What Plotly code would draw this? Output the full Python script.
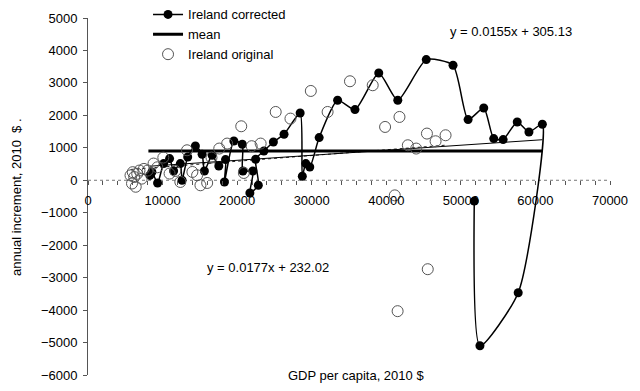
import plotly.graph_objects as go

# ---- data ----
# Ireland corrected (time ordered): GDP per capita (2010 $) and annual increment
corr_x = [8300, 8570, 9330, 10140, 10940, 11480, 12380, 12610, 13370, 14400, 15300, 15610,
          16650, 17540, 18440, 18300, 19560, 20690, 20770, 22110, 21710, 22840, 22480,
          23590, 24860, 26290, 28450, 28740, 29210, 29740, 31000, 33470, 35800, 38990,
          41540, 45360, 48950, 50970, 53070, 54410, 55670, 57560, 59130, 60930, 57690,
          52560, 51800]
corr_y = [150, 256, -83, 515, 669, 287, 515, 0, 718, 1057, 801, 287,
          770, 441, 638, -52, 1211, 1109, 287, 287, -391, -154, 647,
          903, 1180, 1418, 2074, 123, 515, 410, 1315, 2465, 2178, 3307,
          2465, 3718, 3544, 1870, 2228, 1285, 1254, 1797, 1488, 1726, -3464,
          -5098, -641]

# Ireland original (time ordered)
orig_x = [5700, 5900, 6000, 6200, 6400, 6600, 6900, 7200, 7500, 8000, 8790, 9300, 10100,
          10940, 11710, 12380, 13280, 14000, 14630, 15080, 15980, 16560, 17600, 18660,
          20550, 20900, 21950, 23150, 25170, 27150, 29880, 32130, 35130, 38180, 39840,
          41770, 42890, 44010, 45450, 46610, 47950, 45560, 41520, 41140]
orig_y = [150, -100, 250, 100, -200, 200, 300, 50, 350, 300, 515, 400, 700,
          206, 287, -52, 924, 256, 154, -154, -83, 700, 977, 1131,
          1664, 225, 1050, 1131, 2105, 1900, 2752, 2105, 3051, 2928, 1643,
          1951, 1079, 977, 1439, 1202, 1387, -2740, -4033, -465]

mean_value = 900

# linear trendlines (slope, intercept) as printed on the chart
trend_corr = (0.0155, 305.13)
trend_orig = (0.0177, 232.02)

x_ticks = list(range(0, 70001, 2000))
x_labels = [str(v) if v % 10000 == 0 else "" for v in x_ticks]
y_ticks = list(range(-6000, 5001, 1000))

FONT = "Liberation Sans, Arial, sans-serif"

fig = go.Figure()

# original trendline
ox0, ox1 = min(orig_x), max(orig_x)
fig.add_trace(go.Scatter(
    x=[ox0, ox1],
    y=[trend_orig[0] * ox0 + trend_orig[1], trend_orig[0] * ox1 + trend_orig[1]],
    mode="lines", line=dict(color="#222222", width=1, dash="dot"),
    showlegend=False, hoverinfo="skip"))

# corrected trendline
cx0, cx1 = min(corr_x), max(corr_x)
fig.add_trace(go.Scatter(
    x=[cx0, cx1],
    y=[trend_corr[0] * cx0 + trend_corr[1], trend_corr[0] * cx1 + trend_corr[1]],
    mode="lines", line=dict(color="#000000", width=1),
    showlegend=False, hoverinfo="skip"))

fig.add_trace(go.Scatter(
    x=corr_x, y=corr_y, name="Ireland corrected",
    mode="lines+markers",
    line=dict(color="#000000", width=1.5, shape="spline", smoothing=0.6),
    marker=dict(symbol="circle", size=9, color="#000000")))

fig.add_trace(go.Scatter(
    x=[cx0 - 200, cx1], y=[mean_value, mean_value], name="mean",
    mode="lines", line=dict(color="#000000", width=3)))

fig.add_trace(go.Scatter(
    x=orig_x, y=orig_y, name="Ireland original",
    mode="markers",
    marker=dict(symbol="circle-open", size=11, color="#555555", line=dict(width=1))))

# dotted x-axis line at y = 0
fig.add_shape(type="line", xref="x", yref="y", x0=0, x1=70000, y0=0, y1=0,
              line=dict(color="#777777", width=1, dash="dot"), layer="below")

fig.add_annotation(x=56700, y=4590, xref="x", yref="y", text="y = 0.0155x + 305.13",
                   showarrow=False, font=dict(size=13, color="#000000", family=FONT))
fig.add_annotation(x=24140, y=-2680, xref="x", yref="y", text="y = 0.0177x + 232.02",
                   showarrow=False, font=dict(size=13, color="#000000", family=FONT))

# axis titles
fig.add_annotation(x=0.513, y=0.0, xref="paper", yref="paper",
                   text="GDP per capita, 2010 $", showarrow=False,
                   xanchor="center", yanchor="middle",
                   font=dict(size=13, color="#000000", family=FONT))
fig.add_annotation(x=-0.137, y=0.5, xref="paper", yref="paper",
                   text="annual increment, 2010  $ .", showarrow=False, textangle=-90,
                   xanchor="center", yanchor="middle",
                   font=dict(size=13, color="#000000", family=FONT))

fig.update_layout(
    width=640, height=391,
    margin=dict(l=88, r=30, t=18, b=16, autoexpand=False),
    paper_bgcolor="white", plot_bgcolor="white",
    font=dict(family=FONT, size=13, color="#000000"),
    showlegend=True,
    legend=dict(x=0.115, y=1.052, xanchor="left", yanchor="top",
                bgcolor="rgba(0,0,0,0)", font=dict(size=13, family=FONT),
                tracegroupgap=0, itemwidth=30),
    xaxis=dict(range=[0, 70000], anchor="free", position=6000 / 11000,
               tickmode="array", tickvals=x_ticks, ticktext=x_labels,
               ticks="outside", ticklen=4, tickcolor="#555555",
               ticklabelstandoff=4, automargin=False,
               showline=False, showgrid=False, zeroline=False,
               tickfont=dict(size=13, family=FONT, color="#000000")),
    yaxis=dict(range=[-6000, 5000], tickmode="array", tickvals=y_ticks,
               ticks="outside", ticklen=4, tickcolor="#555555",
               ticklabelstandoff=3, automargin=False,
               showline=True, linecolor="#555555", linewidth=1,
               showgrid=False, zeroline=False,
               tickfont=dict(size=13, family=FONT, color="#000000")),
)

fig.write_html("out.html", config={"displayModeBar": False},
               post_script="document.body.style.margin='0';document.body.style.padding='0';")
